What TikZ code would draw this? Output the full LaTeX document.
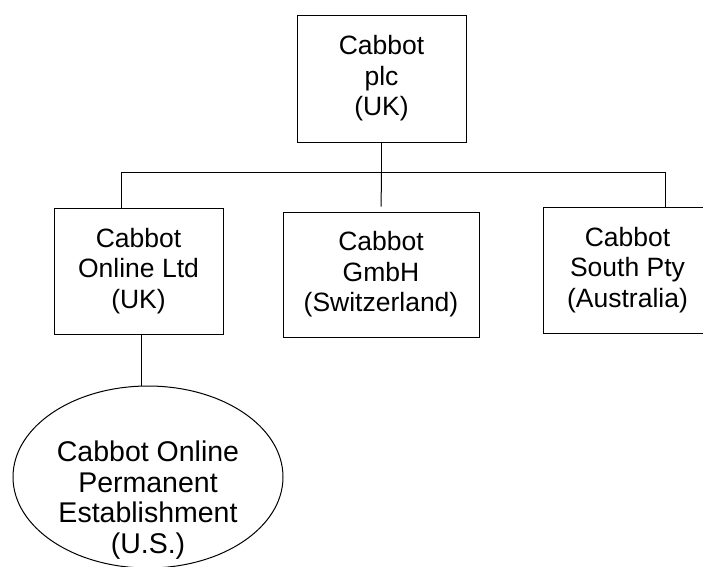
\documentclass[tikz,border=0pt]{standalone}
\usepackage{fontspec}
\setmainfont{Liberation Sans}
\usetikzlibrary{shapes.geometric}

\begin{document}
\begin{tikzpicture}[x=1pt,y=-1pt,
   entity/.style={draw,rectangle,line width=1pt,align=center,inner sep=0pt,
      font=\fontsize{26.5}{30.5}\selectfont,minimum width=169pt,minimum height=126pt},
   branch/.style={draw,ellipse,line width=1pt,inner sep=0pt,
      minimum width=270pt,minimum height=182pt},
   branchtext/.style={align=center,inner sep=0pt,font=\fontsize{28.5}{30.5}\selectfont},
   link/.style={line width=1pt}]
\useasboundingbox (0,0) rectangle (703,566);
% parent
\node[entity,minimum height=127pt] (plc) at (381.5,78.5) {Cabbot\\plc\\(UK)};
% subsidiaries
\node[entity] (online) at (138.5,271) {Cabbot\\Online Ltd\\(UK)};
\node[entity,minimum width=196pt,minimum height=125pt] (gmbh) at (381,274.5) {Cabbot\\GmbH\\(Switzerland)};
\node[entity] (south) at (627.5,270) {Cabbot\\South Pty\\(Australia)};
% permanent establishment
\node[branch] (pe) at (148,477) {};
\node[branchtext] (petext) at (148,500) {Cabbot Online\\Permanent\\Establishment\\(U.S.)};
% bus
\coordinate (busL) at (121,172);
\coordinate (busR) at (665,172);
\coordinate (busM) at (plc.south |- busL);
\draw[link] (busL) -- (busR);
\draw[link] (plc.south) -- (busM);
\draw[link,shorten >=5pt] (busM) -- (gmbh.north);
\draw[link] (busL) -- (busL |- online.north);
\draw[link] (busR) -- (busR |- south.north);
\draw[link] ([xshift=2.5pt]online.south) -- ([xshift=2.5pt]online.south |- pe.north);
\end{tikzpicture}
\end{document}
